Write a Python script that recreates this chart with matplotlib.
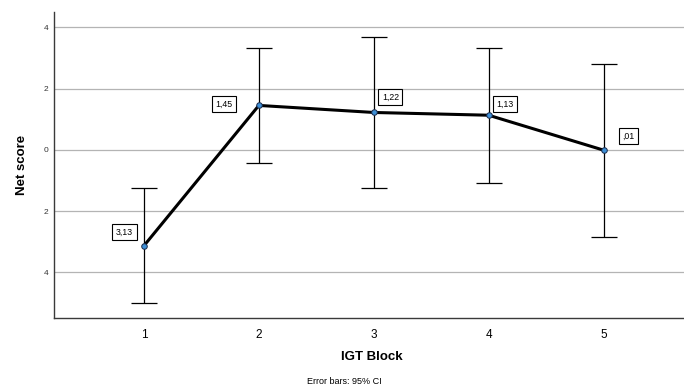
import matplotlib.pyplot as plt
from matplotlib.ticker import FuncFormatter

plt.rcParams['font.family'] = ['Liberation Sans', 'DejaVu Sans']

blocks = [1, 2, 3, 4, 5]
means = [-3.13, 1.45, 1.22, 1.13, -0.01]
ci_low = [-5.00, -0.43, -1.24, -1.07, -2.83]
ci_high = [-1.26, 3.33, 3.68, 3.33, 2.81]
# label offsets in points (x, y) relative to each point
label_offsets = [(-14, 10), (-25, 1), (12, 11), (12, 8), (18, 10)]


def fmt_val(v):
    s = '{:.2f}'.format(abs(v)).replace('.', ',')
    if s.startswith('0'):
        s = s[1:]
    return s


fig = plt.figure(figsize=(6.84, 3.89), dpi=100)
ax = fig.add_axes([54 / 684, 1 - 318 / 389, 630 / 684, 306 / 389])

ax.set_xlim(0.217, 5.70)
ax.set_ylim(-5.49, 4.5)
ax.set_yticks([-4, -2, 0, 2, 4])
ax.set_xticks(blocks)
ax.yaxis.set_major_formatter(FuncFormatter(lambda v, p: '{:d}'.format(int(abs(round(v))))))
ax.grid(axis='y', color='#b4b4b4', linewidth=0.9)
ax.set_axisbelow(True)

for s in ['top', 'right']:
    ax.spines[s].set_visible(False)
for s in ['left', 'bottom']:
    ax.spines[s].set_color('#3a3a3a')
    ax.spines[s].set_linewidth(1.0)

ax.tick_params(axis='y', length=0, labelsize=6, pad=4, labelcolor='#333333')
ax.tick_params(axis='x', length=0, labelsize=8.5, pad=8)

yerr = [[m - lo for m, lo in zip(means, ci_low)], [hi - m for m, hi in zip(means, ci_high)]]
ax.errorbar(blocks, means, yerr=yerr, fmt='none', ecolor='black',
            elinewidth=0.9, capsize=9.5, capthick=0.9, zorder=2)
ax.plot(blocks, means, color='black', linewidth=2.2, zorder=3)
ax.plot(blocks, means, 'o', markersize=4, markerfacecolor='#3d8fd6',
        markeredgecolor='#1a2a4a', markeredgewidth=0.7, zorder=4)

for x, m, (dx, dy) in zip(blocks, means, label_offsets):
    ax.annotate(fmt_val(m), (x, m), xytext=(dx, dy), textcoords='offset points',
                ha='center', va='center', fontsize=6.3,
                bbox=dict(boxstyle='square,pad=0.4', fc='white', ec='black', lw=0.8))

fig.text(22 / 684, 1 - 165 / 389, 'Net score', rotation=90, ha='center', va='center',
         fontsize=9.5, fontweight='bold')
fig.text(372 / 684, 1 - 357 / 389, 'IGT Block', ha='center', va='center',
         fontsize=9.5, fontweight='bold')
fig.text(344 / 684, 1 - 381 / 389, 'Error bars: 95% CI', ha='center', va='center',
         fontsize=6.5)

fig.savefig('out.png', dpi=100)
